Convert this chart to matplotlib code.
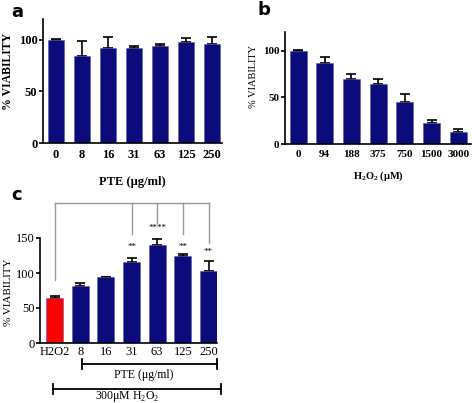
import matplotlib.pyplot as plt

plt.rcParams['font.family'] = ['Liberation Serif', 'DejaVu Serif']
plt.rcParams['mathtext.fontset'] = 'custom'
plt.rcParams['mathtext.rm'] = 'Liberation Serif'
plt.rcParams['mathtext.bf'] = 'Liberation Serif:bold'

# panel a - PTE alone
pte_labels = ["0", "8", "16", "31", "63", "125", "250"]
pte_vals = [100, 84, 91.5, 92, 93.5, 98, 96]
pte_err = [0.6, 15, 11.5, 1.5, 2, 4, 7]

# panel b - H2O2 alone
h2o2_labels = ["0", "94", "188", "375", "750", "1500", "3000"]
h2o2_vals = [100, 86.6, 69.7, 64, 45, 22, 12.6]
h2o2_err = [0.5, 7, 5.5, 6, 8.4, 3.3, 3]

# panel c - PTE + 300uM H2O2
comb_labels = ["H2O2", "8", "16", "31", "63", "125", "250"]
comb_vals = [64, 81.2, 93.7, 115.3, 139.8, 124, 103]
comb_err = [3.7, 4.4, 1.3, 5.7, 9.2, 3.8, 14.7]
stars = {3: "**", 4: "****", 5: "**", 6: "**"}
drop_to = {0: 90, 3: 156, 4: 171, 5: 156, 6: 143}
star_y = {3: 137, 4: 165, 5: 138, 6: 130}

NAVY = "#0b0b7c"
W, H = 472, 403


def px(x, y, w, h):
    return (x / W, 1 - (y + h) / H, w / W, h / H)


def bar_panel(ax, labels, vals, err, colors, ylim, yticks, width):
    xs = range(len(vals))
    ax.bar(xs, vals, width=width, color=colors, edgecolor="#5a5ab0", linewidth=0.4, zorder=2)
    ax.errorbar(xs, vals, yerr=[[0] * len(err), err], fmt="none", ecolor="black",
                elinewidth=1.2, capsize=3.3, capthick=1.2, zorder=1)
    ax.set_ylim(*ylim)
    ax.set_yticks(yticks)
    ax.set_xticks(list(xs))
    ax.set_xticklabels(labels)
    for s in ["top", "right"]:
        ax.spines[s].set_visible(False)
    for s in ["left", "bottom"]:
        ax.spines[s].set_linewidth(1.2)
    ax.tick_params(axis="x", length=0, pad=4)
    ax.tick_params(axis="y", length=3, width=1.2, pad=1)


fig = plt.figure(figsize=(4.72, 4.03), dpi=100)

# a
ax1 = fig.add_axes(px(43, 19, 179, 124))
bar_panel(ax1, pte_labels, pte_vals, pte_err, NAVY, (0, 120), [0, 50, 100], 0.62)
ax1.set_xlim(-0.5, 6.38)
for t in ax1.get_xticklabels() + ax1.get_yticklabels():
    t.set_fontsize(9)
    t.set_fontweight("bold")
ax1.set_ylabel("% VIABILITY", fontsize=8.5, fontweight="bold")
ax1.yaxis.set_label_coords(-0.16, 0.58)
ax1.set_xlabel("PTE (μg/ml)", fontsize=9, fontweight="bold", labelpad=11)

# b
ax2 = fig.add_axes(px(285, 32, 186, 112))
bar_panel(ax2, h2o2_labels, h2o2_vals, h2o2_err, NAVY, (0, 120), [0, 50, 100], 0.64)
ax2.set_xlim(-0.49, 6.48)
for t in ax2.get_xticklabels() + ax2.get_yticklabels():
    t.set_fontsize(8)
    t.set_fontweight("bold")
ax2.set_ylabel("% VIABILITY", fontsize=7.5)
ax2.yaxis.set_label_coords(-0.145, 0.6)
ax2.set_xlabel("H$_\\mathbf{2}$O$_\\mathbf{2}$ (μM)", fontsize=7.5, fontweight="bold", labelpad=8)

# c
ax3 = fig.add_axes(px(40, 238, 177, 105))
cols = ["#ff0000"] + [NAVY] * (len(comb_vals) - 1)
bar_panel(ax3, comb_labels, comb_vals, comb_err, cols, (0, 150), [0, 50, 100, 150], 0.66)
ax3.set_xlim(-0.57, 6.33)
for t in ax3.get_xticklabels() + ax3.get_yticklabels():
    t.set_fontsize(9)
ax3.tick_params(axis="x", pad=2)
ax3.set_ylabel("% VIABILITY", fontsize=8)
ax3.yaxis.set_label_coords(-0.155, 0.48)

# significance brackets
top = 200
ax3.plot([0, 6], [top, top], color="#9a9a9a", lw=1, clip_on=False)
for i, y in drop_to.items():
    ax3.plot([i, i], [top, y], color="#9a9a9a", lw=1, clip_on=False)
for i, s in stars.items():
    ax3.text(i, star_y[i], s, ha="center", va="center", fontsize=6.5)

# brackets under panel c
def hbracket(x0, x1, y):
    fig.add_artist(plt.Line2D([x0 / W, x1 / W], [1 - y / H] * 2, color="black", lw=1.3))
    for x in (x0, x1):
        fig.add_artist(plt.Line2D([x / W] * 2, [1 - (y - 5) / H, 1 - (y + 5) / H], color="black", lw=1.3))

hbracket(82, 217, 364)
fig.text(144 / W, 1 - 375 / H, "PTE (μg/ml)", ha="center", va="center", fontsize=8.5)
hbracket(53, 221, 389)
fig.text(127 / W, 1 - 396 / H, "300μM H$_2$O$_2$", ha="center", va="center", fontsize=8.5)

# panel letters
for x, y, s in [(17, 12, "a"), (264, 10, "b"), (17, 195, "c")]:
    fig.text(x / W, 1 - y / H, s, ha="center", va="center", fontsize=13,
             fontweight="bold", family="DejaVu Sans")

fig.savefig("out.png", dpi=100)
